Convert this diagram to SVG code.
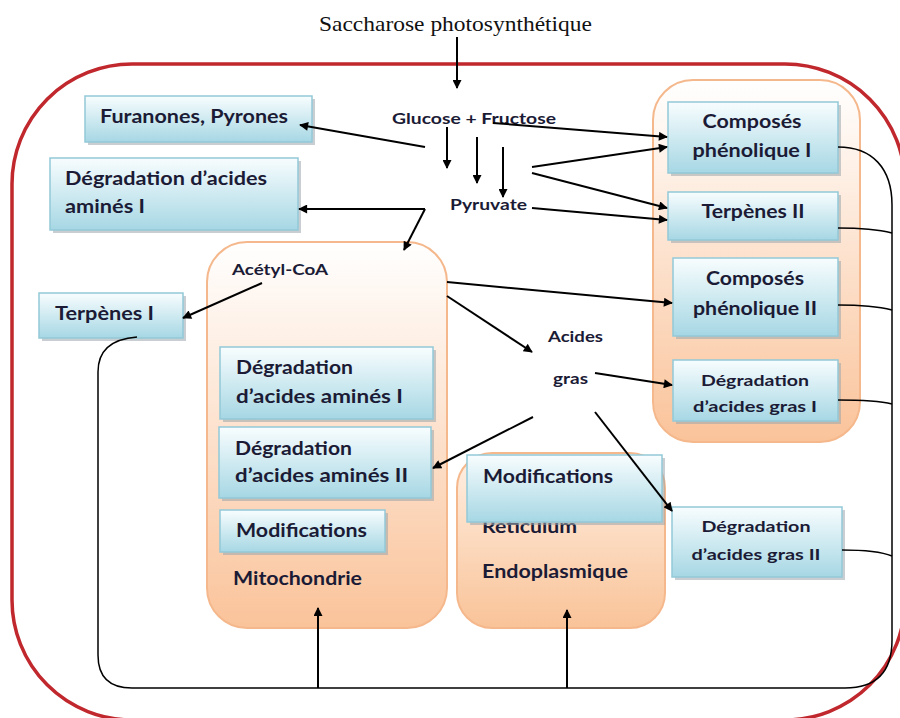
<svg xmlns="http://www.w3.org/2000/svg" width="900" height="718" viewBox="0 0 900 718">
<defs>
  <linearGradient id="gBox" x1="0" y1="0" x2="0" y2="1">
    <stop offset="0" stop-color="#f8fdfe"/>
    <stop offset="1" stop-color="#a6d7e4"/>
  </linearGradient>
  <linearGradient id="gOrg" x1="0" y1="0" x2="0" y2="1">
    <stop offset="0" stop-color="#ffffff"/>
    <stop offset="1" stop-color="#fac39a"/>
  </linearGradient>
  <linearGradient id="gER" x1="0" y1="0" x2="0" y2="1">
    <stop offset="0" stop-color="#fff0e4"/>
    <stop offset="1" stop-color="#f9c398"/>
  </linearGradient>
  <marker id="ah" viewBox="0 0 10 10" refX="9" refY="5" markerWidth="11" markerHeight="9" markerUnits="userSpaceOnUse" orient="auto">
    <path d="M0,0 L10,5 L0,10 z" fill="#000"/>
  </marker>
  <style>
    .box{fill:url(#gBox);stroke:#93c9d8;stroke-width:1.5}
    .sh{fill:#9aa6ab;opacity:0.55}
    .org{fill:url(#gOrg);stroke:#f5b88c;stroke-width:2}
    .t{font-family:Lato,"Liberation Sans",sans-serif;font-weight:bold;fill:#1b1b36;font-size:18px}
    .s{font-size:16px}
    .m{text-anchor:middle}
    .a{stroke:#000;stroke-width:2;fill:none;marker-end:url(#ah)}
    .c{stroke:#000;stroke-width:1.5;fill:none}
  </style>
</defs>
<rect width="900" height="718" fill="#ffffff"/>

<g id="cell">
  <rect x="12" y="64" width="893" height="656" rx="120" ry="120" fill="none" stroke="#c0282d" stroke-width="3.5"/>
</g>

<g id="title">
  <text x="319" y="31" font-family="'Liberation Serif',serif" font-size="21" fill="#111" textLength="273" lengthAdjust="spacingAndGlyphs">Saccharose photosynthétique</text>
</g>

<g id="mitochondrie">
  <rect x="207" y="242" width="240" height="386" rx="40" ry="40" class="org"/>
  <text class="t s" x="232" y="275" textLength="96" lengthAdjust="spacingAndGlyphs">Acétyl-CoA</text>
  <text class="t" x="233" y="585" textLength="129" lengthAdjust="spacingAndGlyphs">Mitochondrie</text>
</g>

<g id="reticulum">
  <rect x="457" y="453" width="208" height="175" rx="35" ry="35" fill="url(#gER)" stroke="#f5b88c" stroke-width="2"/>
  <text class="t" x="482" y="533" textLength="95" lengthAdjust="spacingAndGlyphs">Réticulum</text>
  <text class="t" x="482" y="578" textLength="146" lengthAdjust="spacingAndGlyphs">Endoplasmique</text>
</g>

<g id="plaste">
  <rect x="653" y="80" width="207" height="362" rx="40" ry="40" class="org"/>
</g>

<g id="furanones">
  <rect class="sh" x="88" y="99" width="227" height="46"/>
  <rect class="box" x="85" y="96" width="227" height="46"/>
  <text class="t" x="100" y="123" textLength="188" lengthAdjust="spacingAndGlyphs">Furanones, Pyrones</text>
</g>

<g id="degradation-amines-1-cyto">
  <rect class="sh" x="53" y="161" width="248" height="72"/>
  <rect class="box" x="50" y="158" width="248" height="72"/>
  <text class="t" x="65" y="185" textLength="202" lengthAdjust="spacingAndGlyphs">Dégradation d’acides</text>
  <text class="t" x="65" y="213" textLength="80" lengthAdjust="spacingAndGlyphs">aminés I</text>
</g>

<g id="terpenes-1">
  <rect class="sh" x="42" y="296" width="144" height="45"/>
  <rect class="box" x="39" y="293" width="144" height="45"/>
  <text class="t" x="55" y="320" textLength="99" lengthAdjust="spacingAndGlyphs">Terpènes I</text>
</g>

<g id="glucose-fructose">
  <text class="t s" x="392" y="124" textLength="164" lengthAdjust="spacingAndGlyphs">Glucose + Fructose</text>
</g>
<g id="pyruvate">
  <text class="t s" x="450" y="210" textLength="77" lengthAdjust="spacingAndGlyphs">Pyruvate</text>
</g>
<g id="acides-gras">
  <text class="t s" x="548" y="342" textLength="55" lengthAdjust="spacingAndGlyphs">Acides</text>
  <text class="t s" x="553" y="384" textLength="35" lengthAdjust="spacingAndGlyphs">gras</text>
</g>

<g id="degradation-amines-1-mito">
  <rect class="sh" x="223" y="350" width="213" height="72"/>
  <rect class="box" x="220" y="347" width="213" height="72"/>
  <text class="t" x="236" y="374" textLength="117" lengthAdjust="spacingAndGlyphs">Dégradation</text>
  <text class="t" x="236" y="403" textLength="167" lengthAdjust="spacingAndGlyphs">d’acides  aminés I</text>
</g>

<g id="degradation-amines-2">
  <rect class="sh" x="222" y="430" width="212" height="71"/>
  <rect class="box" x="219" y="427" width="212" height="71"/>
  <text class="t" x="235" y="455" textLength="117" lengthAdjust="spacingAndGlyphs">Dégradation</text>
  <text class="t" x="235" y="482" textLength="173" lengthAdjust="spacingAndGlyphs">d’acides  aminés II</text>
</g>

<g id="modifications-mito">
  <rect class="sh" x="223" y="513" width="165" height="42"/>
  <rect class="box" x="220" y="510" width="165" height="42"/>
  <text class="t" x="236" y="537" textLength="131" lengthAdjust="spacingAndGlyphs">Modifications</text>
</g>

<g id="modifications-er">
  <rect class="sh" x="470" y="458" width="195" height="67"/>
  <rect class="box" x="467" y="455" width="195" height="67"/>
  <text class="t" x="483" y="483" textLength="130" lengthAdjust="spacingAndGlyphs">Modifications</text>
</g>

<g id="composes-phenolique-1">
  <rect class="sh" x="671" y="105" width="170" height="71"/>
  <rect class="box" x="668" y="102" width="170" height="71"/>
  <text class="t m" x="752" y="128" textLength="99" lengthAdjust="spacingAndGlyphs">Composés</text>
  <text class="t m" x="752" y="157" textLength="119" lengthAdjust="spacingAndGlyphs">phénolique I</text>
</g>

<g id="terpenes-2">
  <rect class="sh" x="671" y="195" width="170" height="48"/>
  <rect class="box" x="668" y="192" width="170" height="48"/>
  <text class="t m" x="753" y="218" textLength="103" lengthAdjust="spacingAndGlyphs">Terpènes II</text>
</g>

<g id="composes-phenolique-2">
  <rect class="sh" x="676" y="261" width="165" height="78"/>
  <rect class="box" x="673" y="258" width="165" height="78"/>
  <text class="t m" x="755" y="285" textLength="98" lengthAdjust="spacingAndGlyphs">Composés</text>
  <text class="t m" x="755" y="315" textLength="124" lengthAdjust="spacingAndGlyphs">phénolique II</text>
</g>

<g id="degradation-gras-1">
  <rect class="sh" x="676" y="363" width="165" height="61"/>
  <rect class="box" x="673" y="360" width="165" height="61"/>
  <text class="t m s" x="755" y="386" textLength="108" lengthAdjust="spacingAndGlyphs">Dégradation</text>
  <text class="t m s" x="755" y="412" textLength="124" lengthAdjust="spacingAndGlyphs">d’acides gras I</text>
</g>

<g id="degradation-gras-2">
  <rect class="sh" x="675" y="510" width="170" height="70"/>
  <rect class="box" x="672" y="507" width="170" height="70"/>
  <text class="t m s" x="756" y="532" textLength="109" lengthAdjust="spacingAndGlyphs">Dégradation</text>
  <text class="t m s" x="756" y="560" textLength="129" lengthAdjust="spacingAndGlyphs">d’acides gras II</text>
</g>

<g id="connectors">
  <line class="a" x1="457" y1="37" x2="457" y2="88"/>
  <line class="a" x1="447" y1="127" x2="447" y2="168"/>
  <line class="a" x1="477" y1="137" x2="477" y2="183"/>
  <line class="a" x1="503" y1="147" x2="503" y2="197"/>
  <line class="a" x1="425" y1="147" x2="300" y2="125"/>
  <line class="a" x1="493" y1="123" x2="667" y2="137"/>
  <line class="a" x1="532" y1="167" x2="667" y2="147"/>
  <line class="a" x1="532" y1="173" x2="667" y2="208"/>
  <line class="a" x1="532" y1="208" x2="667" y2="220"/>
  <line class="a" x1="425" y1="209" x2="299" y2="209"/>
  <line class="a" x1="425" y1="209" x2="404" y2="250"/>
  <line class="a" x1="262" y1="283" x2="183" y2="318"/>
  <line class="a" x1="447" y1="282" x2="672" y2="303"/>
  <line class="a" x1="447" y1="296" x2="532" y2="352"/>
  <line class="a" x1="595" y1="373" x2="672" y2="385"/>
  <line class="a" x1="533" y1="417" x2="433" y2="468"/>
  <line class="a" x1="595" y1="412" x2="672" y2="511"/>
  <line class="a" x1="318" y1="688" x2="318" y2="608"/>
  <line class="a" x1="567" y1="688" x2="567" y2="610"/>
  <path class="c" d="M838,147 C872,147 892,168 892,205 L892,640 Q892,688 845,688 L132,688 Q98,688 98,655 L98,372 Q98,340 137,337"/>
  <path class="c" d="M838,228 C862,228 880,230 892,233"/>
  <path class="c" d="M838,305 C862,305 880,307 892,310"/>
  <path class="c" d="M838,400 C862,400 880,401 892,404"/>
  <path class="c" d="M842,550 C866,550 882,552 892,556"/>
</g>
</svg>
